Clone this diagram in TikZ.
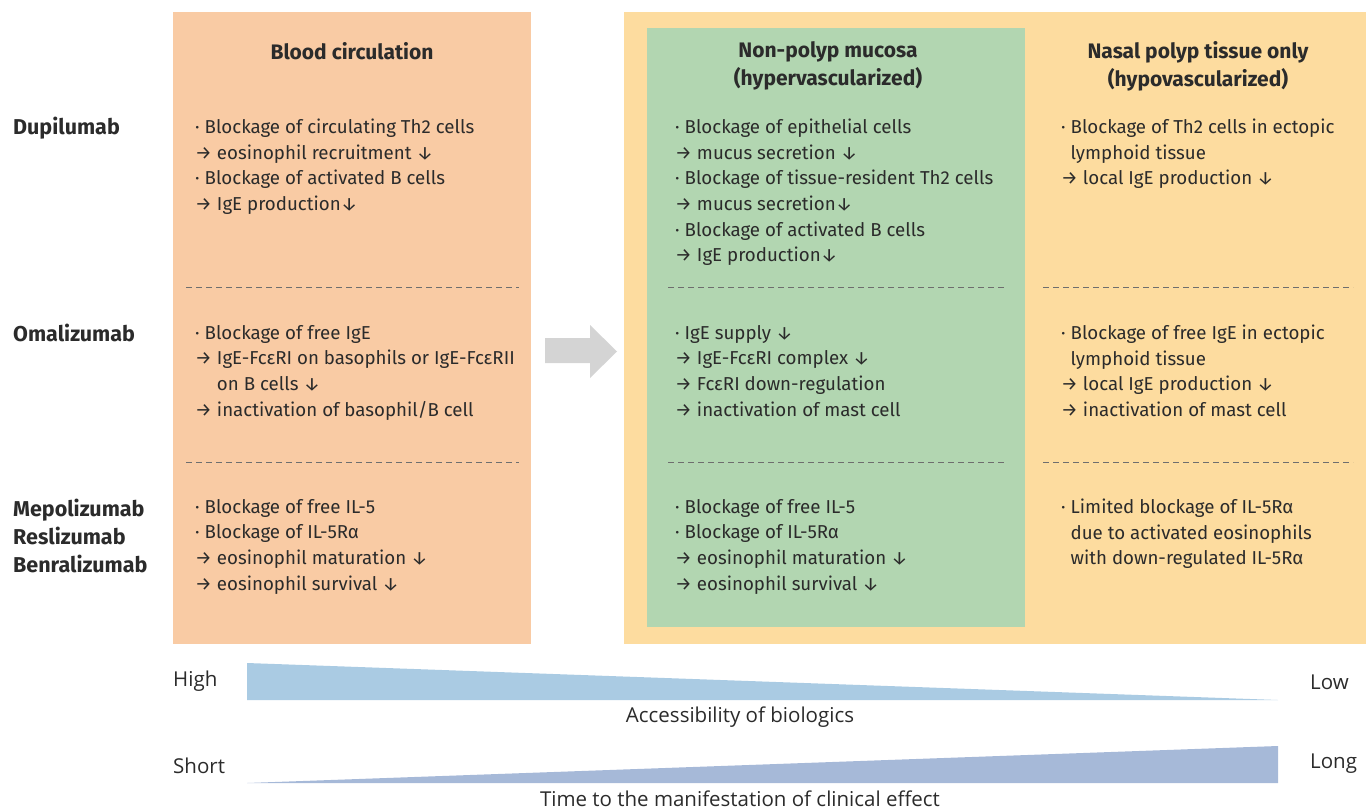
\documentclass[tikz,border=0pt]{standalone}
\usepackage{fontspec}
\setmainfont{Fira Sans}
\newfontfamily\botfont{Open Sans}
\definecolor{txt}{HTML}{2B2B2B}
\definecolor{orangebox}{HTML}{F9CBA4}
\definecolor{yellowbox}{HTML}{FDDC9F}
\definecolor{greenbox}{HTML}{B2D6B1}
\definecolor{arrowgray}{HTML}{D4D4D4}
\definecolor{wedgea}{HTML}{AACBE3}
\definecolor{wedgeb}{HTML}{A6B9D8}
\definecolor{dashgray}{HTML}{6E6E6E}
\newcommand{\bl}{·~}
\newcommand{\ar}{→~}
\newcommand{\dn}{↓}
\begin{document}
\begin{tikzpicture}[x=1pt,y=-1pt,
  body/.style={anchor=north west, inner sep=0pt, align=left, text=txt,
    font=\fontsize{18.7}{25.6}\selectfont},
  head/.style={inner sep=0pt, align=center, text=txt,
    font=\fontsize{21}{28}\selectfont\bfseries},
  rowlab/.style={anchor=west, inner sep=0pt, align=left, text=txt,
    font=\fontsize{21.5}{28}\selectfont\bfseries},
  botlab/.style={inner sep=0pt, text=txt, font=\botfont\fontsize{20.5}{22}\selectfont},
  sep/.style={draw=dashgray, line width=0.9pt, dash pattern=on 6pt off 4pt}]
\useasboundingbox (0,0) rectangle (1371,809);
% boxes
\fill[orangebox] (173,12) rectangle (531,644);
\fill[yellowbox] (624,12) rectangle (1366,644);
\fill[greenbox] (647,28) rectangle (1025,627);
% dashed separators
\foreach \yy in {287,462}{
  \draw[sep] (186,\yy) -- (519,\yy);
  \draw[sep] (668,\yy) -- (1005,\yy);
  \draw[sep] (1043,\yy) -- (1353,\yy);
}
% block arrow
\fill[arrowgray] (545,338) -- (590,338) -- (590,325) -- (617,351.5) -- (590,378) -- (590,363) -- (545,363) -- cycle;
% headings
\node[head] (hblood) at (352,51) {Blood circulation};
\node[head] (hnon) at (828,66) {Non-polyp mucosa\\(hypervascularized)};
\node[head] (hnasal) at (1198,66) {Nasal polyp tissue only\\(hypovascularized)};
% row labels
\node[rowlab] (dupi) at (13,128) {Dupilumab};
\node[rowlab] (omali) at (13,333) {Omalizumab};
\node[rowlab] (mepo) at (13,536) {Mepolizumab\\Reslizumab\\Benralizumab};
% left column
\node[body] (b11) at (195,119) {\bl Blockage of circulating Th2 cells\\
\ar eosinophil recruitment \dn\\
\bl Blockage of activated B cells\\
\ar IgE production\dn};
\node[body] (b12) at (195,325) {\bl Blockage of free IgE\\
\ar IgE-FcεRI on basophils or IgE-FcεRII\\
\phantom{\ar}on B cells \dn\\
\ar inactivation of basophil/B cell};
\node[body] (b13) at (195,499) {\bl Blockage of free IL-5\\
\bl Blockage of IL-5Rα\\
\ar eosinophil maturation \dn\\
\ar eosinophil survival \dn};
% green column
\node[body] (b21) at (675,119) {\bl Blockage of epithelial cells\\
\ar mucus secretion \dn\\
\bl Blockage of tissue-resident Th2 cells\\
\ar mucus secretion\dn\\
\bl Blockage of activated B cells\\
\ar IgE production\dn};
\node[body] (b22) at (675,325) {\bl IgE supply \dn\\
\ar IgE-FcεRI complex \dn\\
\ar FcεRI down-regulation\\
\ar inactivation of mast cell};
\node[body] (b23) at (675,499) {\bl Blockage of free IL-5\\
\bl Blockage of IL-5Rα\\
\ar eosinophil maturation \dn\\
\ar eosinophil survival \dn};
% right column
\node[body] (b31) at (1061,119) {\bl Blockage of Th2 cells in ectopic\\
\phantom{\bl}lymphoid tissue\\
\ar local IgE production \dn};
\node[body] (b32) at (1061,325) {\bl Blockage of free IgE in ectopic\\
\phantom{\bl}lymphoid tissue\\
\ar local IgE production \dn\\
\ar inactivation of mast cell};
\node[body] (b33) at (1061,499) {\bl Limited blockage of IL-5Rα\\
\phantom{\bl}due to activated eosinophils\\
\phantom{\bl}with down-regulated IL-5Rα};
% wedges
\fill[wedgea] (247,663) -- (1278,700) -- (247,700) -- cycle;
\fill[wedgeb] (247,783) -- (1278,746) -- (1278,783) -- cycle;
% bottom labels
\node[botlab, anchor=west] (high) at (173,681) {High};
\node[botlab, anchor=west] (low) at (1310,682) {Low};
\node[botlab] (access) at (740,717) {Accessibility of biologics};
\node[botlab, anchor=west] (short) at (173,766) {Short};
\node[botlab, anchor=west] (long) at (1310,764) {Long};
\node[botlab] (time) at (740,799) {Time to the manifestation of clinical effect};
\end{tikzpicture}
\end{document}
